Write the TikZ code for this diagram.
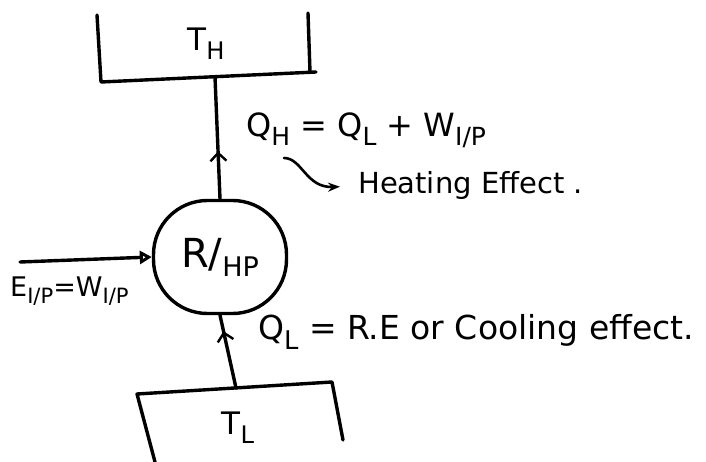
\documentclass[tikz,border=0pt]{standalone}
\usepackage{fontspec}
\setmainfont{DejaVu Sans}
\usetikzlibrary{arrows.meta, decorations.markings}

\newcommand{\dn}[1]{\raisebox{-0.28em}{\scalebox{0.78}{#1}}}

\tikzset{
	hand/.style={line width=3.4pt, line cap=round, line join=round},
	upmark/.style={decoration={markings, mark=at position #1 with {\arrow[line width=2.4pt]{Straight Barb[length=8pt,width=16pt]}}}, postaction={decorate}},
	lbl/.style={inner sep=0pt, font=\fontsize{29}{31}\selectfont}
}

\begin{document}
\begin{tikzpicture}[x=1pt,y=-1pt]
			\useasboundingbox (0,0) rectangle (706,462);
			% hot reservoir
			\draw[hand] (97,15) -- (101,82) -- (316,72);
			\draw[hand] (308,13) -- (310,72);
			\node[lbl, font=\fontsize{31}{33}\selectfont] (th) at (206,44) {T\dn{H}};
			\coordinate (thb) at (215,77);
			% cold reservoir
			\draw[hand] (155,462) -- (137,394) -- (332,382) -- (343,440);
			\node[lbl, font=\fontsize{31}{33}\selectfont] (tl) at (238,428) {T\dn{L}};
			\coordinate (tlt) at (236,388);
			% machine
			\node[hand, draw, rounded corners=54pt, minimum width=133pt, minimum height=113pt] (rhp) at (220,257)
				{{\fontsize{40}{40}\selectfont R/}\raisebox{-9pt}{\fontsize{27}{27}\selectfont HP}};
			\draw[hand, upmark=0.39] (rhp.north) -- (thb);
			\draw[hand, upmark=0.78] (tlt) -- (rhp.south);
			\coordinate (ein) at (20,262);
			\draw[hand, -{Triangle[open, length=12pt, width=13pt]}] (ein) -- (rhp.west);
			% labels
			\node[lbl, font=\fontsize{27}{29}\selectfont, anchor=west] (ein lbl) at (10,291) {E\dn{I/P}=W\dn{I/P}};
			\node[lbl, font=\fontsize{32}{34}\selectfont, anchor=west] (qh) at (246,130) {Q\dn{H} = Q\dn{L} + W\dn{I/P}};
			\node[lbl, anchor=west] (heat) at (358,186) {Heating Effect .};
			\coordinate (hs) at (284,158);
			\draw[hand, line width=2.6pt, shorten >=18pt, -{Stealth[length=12pt]}] (hs) .. controls (302,158) and (306,188) .. (heat.west);
			\node[lbl, font=\fontsize{33}{35}\selectfont, anchor=west] (ql) at (258,332) {Q\dn{L} = R.E or Cooling effect.};
		\end{tikzpicture}
\end{document}
